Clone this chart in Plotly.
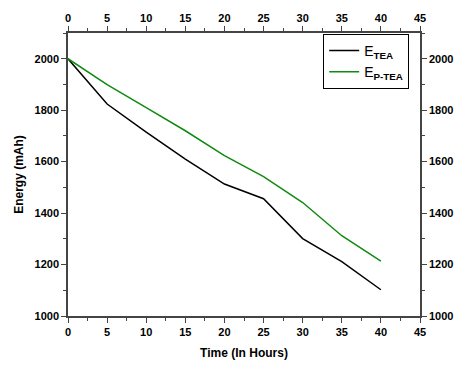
import plotly.graph_objects as go

time_h = [0, 5, 10, 15, 20, 25, 30, 35, 40]
e_tea = [2000, 1824, 1715, 1610, 1513, 1456, 1301, 1211, 1102]
e_ptea = [2000, 1899, 1810, 1720, 1623, 1542, 1441, 1312, 1213]
x_ticks = [0, 5, 10, 15, 20, 25, 30, 35, 40, 45]
y_ticks = [1000, 1200, 1400, 1600, 1800, 2000]

font = "Liberation Sans, Arial, sans-serif"
axis_col = "#444"

fig = go.Figure()
fig.add_trace(go.Scatter(x=time_h, y=e_tea, mode="lines", name="E<sub><b>TEA</b></sub>",
                         line=dict(color="black", width=1.5)))
fig.add_trace(go.Scatter(x=time_h, y=e_ptea, mode="lines", name="E<sub><b>P-TEA</b></sub>",
                         line=dict(color="#108a10", width=1.5)))
fig.add_trace(go.Scatter(x=[time_h[0]], y=[e_tea[0]], xaxis="x2", yaxis="y2",
                         mode="markers", marker=dict(opacity=0), showlegend=False,
                         hoverinfo="skip"))

common = dict(showline=True, linecolor=axis_col, linewidth=1.5, ticks="outside",
              ticklen=5, tickwidth=1.2, tickcolor=axis_col, showgrid=False, zeroline=False,
              tickfont=dict(family=font, size=11, color="black", weight="bold"))

fig.update_layout(
    width=465, height=370,
    margin=dict(l=68, r=36, t=29, b=51),
    paper_bgcolor="white", plot_bgcolor="white",
    font=dict(family=font, color="black"),
    xaxis=dict(range=[0, 45], tickvals=x_ticks,
               minor=dict(ticks="outside", dtick=2.5, ticklen=3, tickcolor=axis_col),
               title=dict(text="<b>Time (In Hours)</b>", font=dict(size=12), standoff=12),
               **common),
    xaxis2=dict(range=[0, 45], tickvals=x_ticks, overlaying="x", side="top",
                minor=dict(ticks="outside", dtick=2.5, ticklen=3, tickcolor=axis_col),
                **common),
    yaxis=dict(range=[1000, 2100], tickvals=y_ticks,
               minor=dict(ticks="outside", dtick=100, ticklen=3, tickcolor=axis_col),
               title=dict(text="<b>Energy (mAh)</b>", font=dict(size=12), standoff=8),
               **common),
    yaxis2=dict(range=[1000, 2100], tickvals=y_ticks, overlaying="y", side="right",
                minor=dict(ticks="outside", dtick=100, ticklen=3, tickcolor=axis_col),
                **common),
    legend=dict(x=0.725, y=0.997, xanchor="left", yanchor="top",
                bordercolor="black", borderwidth=1, bgcolor="white",
                font=dict(family=font, size=14, color="black"),
                tracegroupgap=0),
)

fig.write_html("out.html")
